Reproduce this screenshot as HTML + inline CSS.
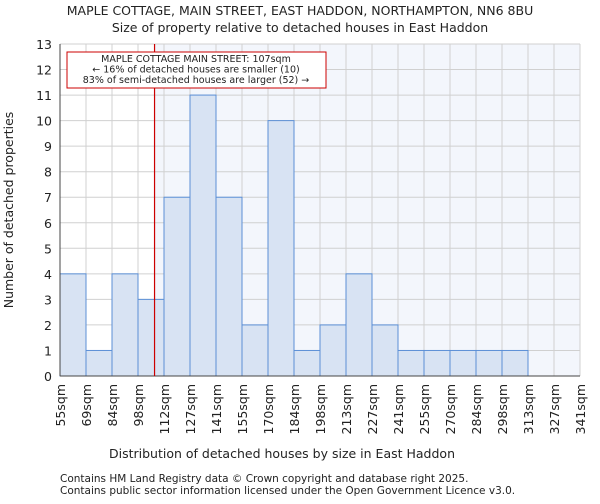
<!DOCTYPE html>
<html><head><meta charset="utf-8"><style>
body{margin:0;background:#fff;font-family:"DejaVu Sans","Liberation Sans",sans-serif;}
svg text{font-family:"DejaVu Sans","Liberation Sans",sans-serif;fill:#222;}
</style></head><body>
<svg id="chart" width="600" height="500" xmlns="http://www.w3.org/2000/svg">
<text x="300" y="15" text-anchor="middle" font-size="12.5">MAPLE COTTAGE, MAIN STREET, EAST HADDON, NORTHAMPTON, NN6 8BU</text>
<text x="300" y="32" text-anchor="middle" font-size="12.5">Size of property relative to detached houses in East Haddon</text>
<g id="plot"></g>
<text x="282" y="458" text-anchor="middle" font-size="12.5">Distribution of detached houses by size in East Haddon</text>
<text transform="translate(13,210) rotate(-90)" text-anchor="middle" font-size="12.5">Number of detached properties</text>
<text x="60" y="482" font-size="10.5">Contains HM Land Registry data © Crown copyright and database right 2025.</text>
<text x="60" y="494" font-size="10.5">Contains public sector information licensed under the Open Government Licence v3.0.</text>
</svg>
<script>
const categories=["55sqm","69sqm","84sqm","98sqm","112sqm","127sqm","141sqm","155sqm","170sqm","184sqm","198sqm","213sqm","227sqm","241sqm","255sqm","270sqm","284sqm","298sqm","313sqm","327sqm","341sqm"];
const counts=[4,1,4,3,7,11,7,2,10,1,2,4,2,1,1,1,1,1,0,0];
const yTicks=[0,1,2,3,4,5,6,7,8,9,10,11,12,13];
const binStart=55, binWidth=14.3;
const markerValue=107;
const NS="http://www.w3.org/2000/svg";
const L=60,R=580,T=44,B=376,yMax=13;
const n=counts.length, bw=(R-L)/n;
const x=i=>L+i*bw;
const xv=v=>L+(v-binStart)/binWidth*bw;
const y=v=>B-v/yMax*(B-T);
const g=document.getElementById('plot');
function mk(tag,attrs){const e=document.createElementNS(NS,tag);for(const k in attrs)e.setAttribute(k,attrs[k]);g.appendChild(e);return e;}
const mx=xv(markerValue);
let e=mk('rect',{x:L,y:T,width:R-L,height:B-T,fill:'#fff'});


e=mk('rect',{x:mx,y:T,width:R-mx,height:B-T,fill:'#f3f6fc'});


yTicks.forEach(t=>{
  let l=mk('line',{x1:L,x2:R,y1:y(t),y2:y(t),stroke:'#d0d0d0','stroke-width':1});
  
  
  let tx=mk('text',{x:L-8,y:y(t)+5,'text-anchor':'end','font-size':12.5});
  tx.textContent=t;
  
  
});
categories.forEach((c,i)=>{
  let l=mk('line',{x1:x(i),x2:x(i),y1:T,y2:B,stroke:'#d0d0d0','stroke-width':1});
  
  
  let tx=mk('text',{transform:`translate(${x(i)+5},${B+8}) rotate(-90)`,'text-anchor':'end','font-size':12.5});
  tx.textContent=c;
  
  
});
counts.forEach((v,i)=>{
  if(v<=0)return;
  let r=mk('rect',{x:x(i),y:y(v),width:bw,height:B-y(v),fill:'#d8e3f3',stroke:'#5b8fd6','stroke-width':1});
  
  
});
e=mk('line',{x1:L,x2:L,y1:T,y2:B,stroke:'#444'});


e=mk('line',{x1:L,x2:R,y1:B,y2:B,stroke:'#444'});


e=mk('line',{x1:mx,x2:mx,y1:T,y2:B,stroke:'#cc0000','stroke-width':1.2});


e=mk('rect',{x:67,y:52,width:259,height:36,fill:'#fff',stroke:'#cc0000','stroke-width':1});


["MAPLE COTTAGE MAIN STREET: 107sqm","← 16% of detached houses are smaller (10)","83% of semi-detached houses are larger (52) →"].forEach((s,i)=>{
  let t=mk('text',{x:196,y:62+i*10.5,'text-anchor':'middle','font-size':9.5});
  t.textContent=s;
  
  
});
</script>
</body></html>
